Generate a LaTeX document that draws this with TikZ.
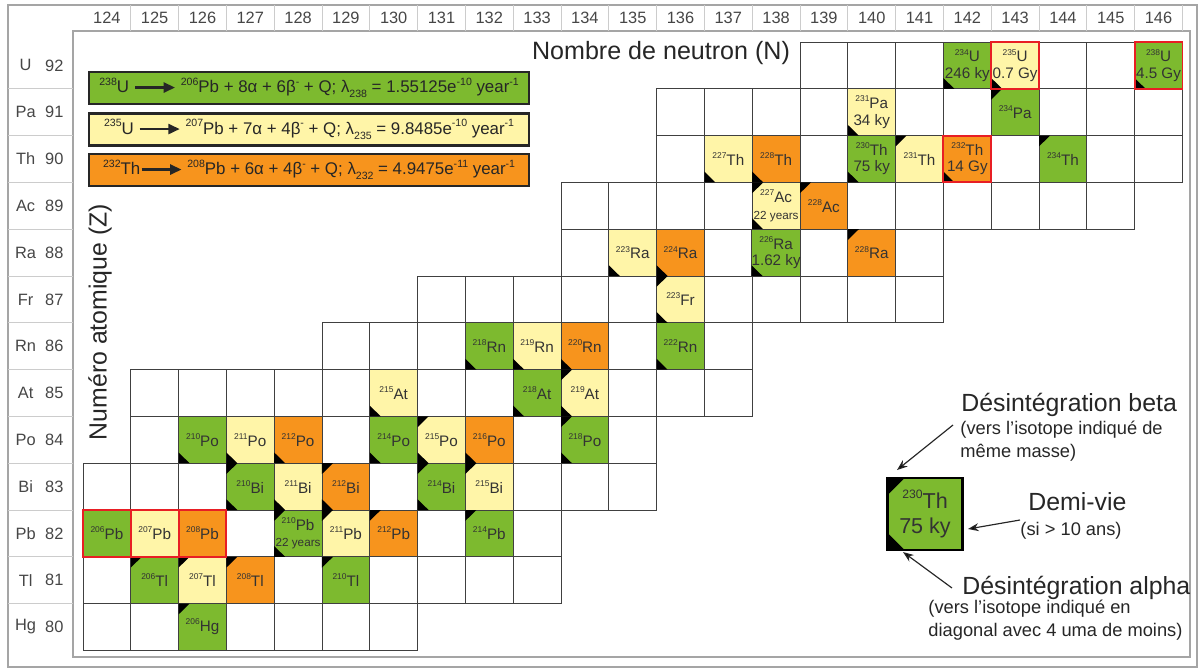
\documentclass[tikz,border=0pt]{standalone}
\usepackage{fontspec}
\setmainfont{Liberation Sans}
\usetikzlibrary{arrows.meta}
\usetikzlibrary{calc}
\tikzset{>={Stealth[length=1.6mm,width=1.2mm]}}
\definecolor{chaingreen}{RGB}{125,186,47}
\definecolor{chainyellow}{RGB}{255,245,168}
\definecolor{chainorange}{RGB}{247,148,29}
\definecolor{boxred}{RGB}{232,30,36}
\definecolor{framegray}{RGB}{165,165,165}
\definecolor{labelgray}{RGB}{70,70,70}
\tikzstyle{gridline}=[draw=black!75,line width=0.4pt]
\tikzstyle{nucl}=[draw=black!75,line width=0.4pt,minimum width=7.17mm,minimum height=7.02mm,inner sep=0pt,outer sep=0pt,align=center,text=black!80,font=\fontsize{6.5}{7}\selectfont]
\tikzstyle{redframe}=[draw=boxred,line width=0.8pt]
\tikzstyle{sepline}=[draw=black!20,line width=0.3pt]
\tikzstyle{headnum}=[text=labelgray,font=\fontsize{7}{8}\selectfont]
\tikzstyle{reacbox}=[draw=black!85,line width=0.9pt,minimum width=66mm,minimum height=4.8mm,inner xsep=0.6mm,inner ysep=0pt,anchor=west,text=black!85,font=\fontsize{7.2}{8}\selectfont]
\tikzstyle{legtitle}=[anchor=west,inner sep=0pt,text=black!85,font=\fontsize{10.6}{12}\selectfont]
\tikzstyle{legnote}=[anchor=north west,align=left,inner sep=0pt,text=black!85,font=\fontsize{7.8}{9.8}\selectfont]
\tikzstyle{legarrow}=[->,draw=black!85,line width=0.5pt]
% small mass number in front of a symbol
\newcommand{\ms}[2][3.6]{\raisebox{0.45em}{\fontsize{#1}{#1}\selectfont#2}}
\newcommand{\ls}[1]{\raisebox{-0.3em}{\fontsize{4.5}{5}\selectfont#1}}
\newcommand{\yrs}{{\fontsize{5}{5}\selectfont 22 years}}
\newcommand{\decayarrow}{\tikz[baseline=-0.6ex]\draw[line width=1pt,-{Triangle[length=1.7mm,width=1.5mm]}] (0,0) -- (6mm,0);}

\begin{document}
\begin{tikzpicture}[x=0.15mm,y=-0.15mm]
  \useasboundingbox (0,0) rectangle (1202,670);
  \draw[framegray,line width=0.6pt] (8,5) rectangle (1197,667);
  \draw[framegray,line width=0.6pt] (73,31) rectangle (1190,657);

  \node[font=\fontsize{10.7}{12}\selectfont,text=black!85] (ntitle) at (661,53) {Nombre de neutron (N)};
  \node[rotate=90,font=\fontsize{10.6}{12}\selectfont,text=black!85] (ztitle) at (100,322) {Numéro atomique (Z)};

  % decay series
  \node[reacbox,fill=chaingreen] (r238) at (88,88) {\ms[4.5]{238}U \decayarrow\ \ms[4.5]{206}Pb + 8α + 6β\ms[4.5]{-} + Q; λ\ls{238} = 1.55125e\ms[4.5]{-10} year\ms[4.5]{-1}};
  \node[reacbox,fill=chainyellow] (r235) at (88,129.5) {\ms[4.5]{235}U \decayarrow\ \ms[4.5]{207}Pb + 7α + 4β\ms[4.5]{-} + Q; λ\ls{235} = 9.8485e\ms[4.5]{-10} year\ms[4.5]{-1}};
  \node[reacbox,fill=chainorange] (r232) at (88,170) {\ms[4.5]{232}Th\decayarrow\ \ms[4.5]{208}Pb + 6α + 4β\ms[4.5]{-} + Q; λ\ls{232} = 4.9475e\ms[4.5]{-11} year\ms[4.5]{-1}};

  % chart: x = N, y = Z
  \begin{scope}[shift={(-873.05mm,-655.65mm)},x=7.17mm,y=7.02mm]
    \foreach \n in {124,...,146} {
      \node[headnum] (n\n) at (\n,93.02) {\n};
      \draw[sepline] (\n+0.5,92.74) -- (\n+0.5,93.29);
    }
    \foreach \z/\el in {92/U,91/Pa,90/Th,89/Ac,88/Ra,87/Fr,86/Rn,85/At,84/Po,83/Bi,82/Pb,81/Tl,80/Hg} {
      \node[headnum] (el\z) at (122.3,\z) {\el};
      \node[headnum] (z\z) at (122.9,\z) {\z};
    }
    \foreach \z in {81,...,92} \draw[sepline] (121.93,\z-0.5) -- (123.29,\z-0.5);

    \foreach \z/\a/\b in {92/139/146,91/136/146,90/136/146,89/134/145,88/134/141,87/131/141,86/129/137,85/125/137,84/125/135,83/124/135,82/124/133,81/124/133,80/124/130}
      \foreach \n in {\a,...,\b} \draw[gridline] (\n-0.5,\z-0.5) rectangle (\n+0.5,\z+0.5);

    % nuclides with half-life
    \foreach \n/\z/\A/\el/\col/\hl in {146/92/238/U/chaingreen/4.5 Gy,143/92/235/U/chainyellow/0.7 Gy,142/92/234/U/chaingreen/246 ky,140/91/231/Pa/chainyellow/34 ky,142/90/232/Th/chainorange/14 Gy,140/90/230/Th/chaingreen/75 ky,138/89/227/Ac/chainyellow/\yrs,138/88/226/Ra/chaingreen/1.62 ky,128/82/210/Pb/chaingreen/\yrs}
      \node[nucl,fill=\col] (\el\A) at (\n,\z) {\ms{\A}\el\\\hl};
    % short-lived and stable nuclides
    \foreach \n/\z/\A/\el/\col in {143/91/234/Pa/chaingreen,144/90/234/Th/chaingreen,141/90/231/Th/chainyellow,138/90/228/Th/chainorange,137/90/227/Th/chainyellow,139/89/228/Ac/chainorange,140/88/228/Ra/chainorange,136/88/224/Ra/chainorange,135/88/223/Ra/chainyellow,136/87/223/Fr/chainyellow,136/86/222/Rn/chaingreen,134/86/220/Rn/chainorange,133/86/219/Rn/chainyellow,132/86/218/Rn/chaingreen,134/85/219/At/chainyellow,133/85/218/At/chaingreen,130/85/215/At/chainyellow,134/84/218/Po/chaingreen,132/84/216/Po/chainorange,131/84/215/Po/chainyellow,130/84/214/Po/chaingreen,128/84/212/Po/chainorange,127/84/211/Po/chainyellow,126/84/210/Po/chaingreen,132/83/215/Bi/chainyellow,131/83/214/Bi/chaingreen,129/83/212/Bi/chainorange,128/83/211/Bi/chainyellow,127/83/210/Bi/chaingreen,132/82/214/Pb/chaingreen,130/82/212/Pb/chainorange,129/82/211/Pb/chainyellow,126/82/208/Pb/chainorange,125/82/207/Pb/chainyellow,124/82/206/Pb/chaingreen,129/81/210/Tl/chaingreen,127/81/208/Tl/chainorange,126/81/207/Tl/chainyellow,125/81/206/Tl/chaingreen,126/80/206/Hg/chaingreen}
      \node[nucl,fill=\col] (\el\A) at (\n,\z) {\ms{\A}\el};

    % alpha decay corner
    \foreach \c in {U238,U235,U234,Pa231,Th232,Th230,Th228,Th227,Ac227,Ra226,Ra224,Ra223,Fr223,Rn222,Rn220,Rn219,Rn218,At219,At218,At215,Po218,Po216,Po215,Po214,Po212,Po211,Po210,Bi214,Bi212,Bi211,Bi210,Pb210}
      \fill (\c.south west) -- ++(0.23,0) -- ++(-0.23,0.23) -- cycle;
    % beta decay corner
    \foreach \c in {Pa234,Th234,Th231,Ac228,Ac227,Ra228,Fr223,At219,Po218,Po215,Bi215,Bi214,Bi212,Bi210,Pb214,Pb212,Pb211,Pb210,Tl210,Tl208,Tl207,Tl206,Hg206}
      \fill (\c.north west) -- ++(0.23,0) -- ++(-0.23,-0.23) -- cycle;

    \foreach \c in {U238,U235,Th232,Pb206,Pb207,Pb208}
      \draw[redframe] (\c.south west) rectangle (\c.north east);
  \end{scope}

  % key
  \node[nucl,fill=chaingreen,draw=black,line width=1.2pt,minimum width=11.25mm,minimum height=10.8mm,font=\fontsize{9.2}{10.5}\selectfont] (legcell) at (925,514) {\ms[5.2]{230}Th\\75 ky};
  \fill (legcell.north west) -- ++(17,0) -- ++(-17,17) -- cycle;
  \fill (legcell.south west) -- ++(17,0) -- ++(-17,-17) -- cycle;

  \node[legtitle] (betatitle) at (961,405) {Désintégration beta};
  \node[legnote] (betanote) at (960,421) {(vers l'isotope indiqué de\\même masse)};
  \node[legtitle] (halftitle) at (1028,502) {Demi-vie};
  \node[legnote] (halfnote) at (1020,522) {(si > 10 ans)};
  \node[legtitle] (alphatitle) at (962,588) {Désintégration alpha};
  \node[legnote] (alphanote) at (928,600) {(vers l'isotope indiqué en\\diagonal avec 4 uma de moins)};

  \coordinate (betatail) at (953,425);
  \coordinate (halftail) at (1020,520);
  \coordinate (alphatail) at (952,588);
  \draw[legarrow] (betatail) -- ($(legcell.north west)+(9.5,-8)$);
  \draw[legarrow] (halftail) -- ($(legcell.east)+(5.5,15)$);
  \draw[legarrow] (alphatail) -- ($(legcell.south west)+(15.5,2)$);
\end{tikzpicture}
\end{document}
